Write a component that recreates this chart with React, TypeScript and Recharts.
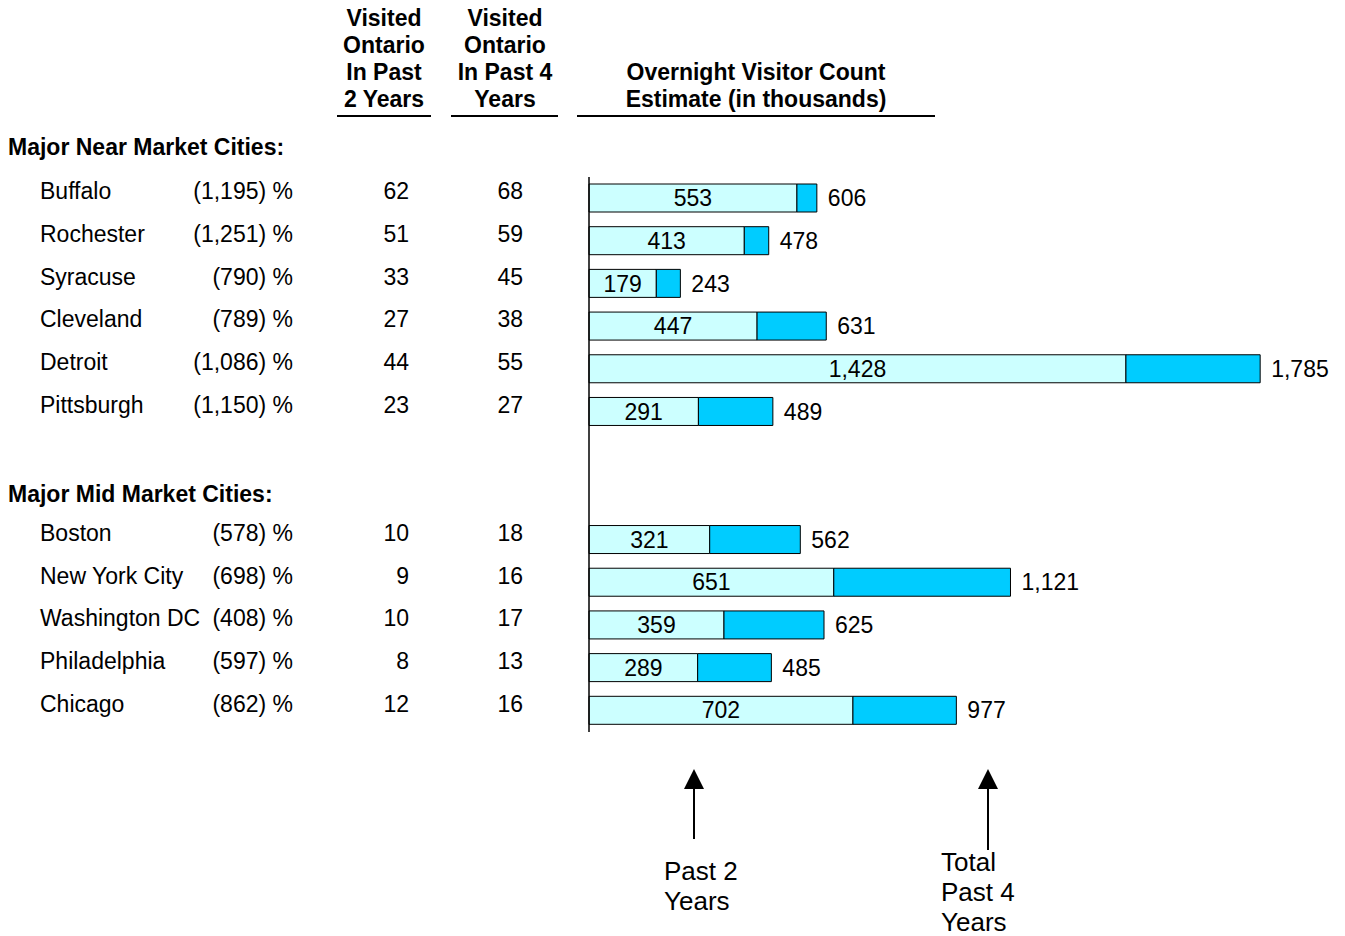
import React from "react"
import { Bar, BarChart, XAxis, YAxis, LabelList } from "recharts"

const cities = [
  "Buffalo",
  "Rochester",
  "Syracuse",
  "Cleveland",
  "Detroit",
  "Pittsburgh",
  "Boston",
  "New York City",
  "Washington DC",
  "Philadelphia",
  "Chicago",
]
const indexPct = [
  "(1,195) %",
  "(1,251) %",
  "(790) %",
  "(789) %",
  "(1,086) %",
  "(1,150) %",
  "(578) %",
  "(698) %",
  "(408) %",
  "(597) %",
  "(862) %",
]
const visited2 = [62, 51, 33, 27, 44, 23, 10, 9, 10, 8, 12]
const visited4 = [68, 59, 45, 38, 55, 27, 18, 16, 17, 13, 16]
const past2Count = [553, 413, 179, 447, 1428, 291, 321, 651, 359, 289, 702]
const totalCount = [606, 478, 243, 631, 1785, 489, 562, 1121, 625, 485, 977]
const nearCount = 6

const FONT = '"Liberation Sans", Arial, sans-serif'

type Row = {
  name: string
  pct: string | null
  v2: number | null
  v4: number | null
  past2: number | null
  extra: number | null
  total: number | null
}

const cityRow = (i: number): Row => ({
  name: cities[i],
  pct: indexPct[i],
  v2: visited2[i],
  v4: visited4[i],
  past2: past2Count[i],
  extra: totalCount[i] - past2Count[i],
  total: totalCount[i],
})
const spacer = (name: string): Row => ({ name, pct: null, v2: null, v4: null, past2: null, extra: null, total: null })

const rows: Row[] = [
  ...cities.slice(0, nearCount).map((_, i) => cityRow(i)),
  spacer("gap1"),
  spacer("gap2"),
  ...cities.slice(nearCount).map((_, i) => cityRow(i + nearCount)),
]

const fmt = (v: any) => (v == null ? "" : Number(v).toLocaleString("en-US"))

function CityTick(props: any) {
  const { y, payload } = props
  const row = rows.find((r) => r.name === payload.value)
  if (!row || row.pct == null) return null
  const ty = y + 1
  return (
    <g fontFamily={FONT} fontSize={23} fill="#000">
      <text x={40} y={ty} fill="#000">{row.name}</text>
      <text x={293} y={ty} textAnchor="end" fill="#000">{row.pct}</text>
      <text x={409} y={ty} textAnchor="end" fill="#000">{row.v2}</text>
      <text x={523} y={ty} textAnchor="end" fill="#000">{row.v4}</text>
    </g>
  )
}

function Arrow({ x, tip, end }: { x: number; tip: number; end: number }) {
  return (
    <g>
      <line x1={x} y1={tip + 18} x2={x} y2={end} stroke="#000" strokeWidth={2} />
      <polygon points={`${x},${tip} ${x - 10},${tip + 20} ${x + 10},${tip + 20}`} fill="#000" />
    </g>
  )
}

function Annotations() {
  return (
    <svg
      width={1345}
      height={936}
      style={{ position: "absolute", left: 0, top: 0, pointerEvents: "none" }}
      fontFamily={FONT}
    >
      <g fontWeight="bold" fontSize={23} textAnchor="middle" fill="#000">
        <text x={384} y={26}>Visited</text>
        <text x={384} y={53}>Ontario</text>
        <text x={384} y={80}>In Past</text>
        <text x={384} y={107}>2 Years</text>
        <text x={505} y={26}>Visited</text>
        <text x={505} y={53}>Ontario</text>
        <text x={505} y={80}>In Past 4</text>
        <text x={505} y={107}>Years</text>
        <text x={756} y={80}>Overnight Visitor Count</text>
        <text x={756} y={107}>Estimate (in thousands)</text>
      </g>
      <line x1={337} y1={116} x2={431} y2={116} stroke="#000" strokeWidth={2} />
      <line x1={451} y1={116} x2={558} y2={116} stroke="#000" strokeWidth={2} />
      <line x1={577} y1={116} x2={935} y2={116} stroke="#000" strokeWidth={2} />
      <g fontWeight="bold" fontSize={23} fill="#000">
        <text x={8} y={155}>Major Near Market Cities:</text>
        <text x={8} y={502}>Major Mid Market Cities:</text>
      </g>
      <Arrow x={694} tip={769} end={839} />
      <Arrow x={988} tip={769} end={850} />
      <g fontSize={26} fill="#000">
        <text x={664} y={880}>Past 2</text>
        <text x={664} y={910}>Years</text>
        <text x={941} y={871}>Total</text>
        <text x={941} y={901}>Past 4</text>
        <text x={941} y={931}>Years</text>
      </g>
    </svg>
  )
}

export default function App() {
  return (
    <div style={{ position: "absolute", left: 0, top: 0, width: 1345, height: 936, background: "#fff" }}>
      <BarChart
        width={1345}
        height={936}
        data={rows}
        layout="vertical"
        margin={{ top: 177, right: 4, bottom: 204, left: 0 }}
        barSize={28}
      >
        <XAxis type="number" domain={[0, 2000]} hide />
        <YAxis
          type="category"
          dataKey="name"
          width={589}
          interval={0}
          tickLine={false}
          axisLine={{ stroke: "#000", strokeWidth: 1.5 }}
          tick={<CityTick />}
        />
        <Bar dataKey="past2" stackId="a" fill="#CCFFFF" stroke="#000" strokeWidth={1} isAnimationActive={false}>
          <LabelList dataKey="past2" position="center" formatter={fmt} fill="#000" fontSize={23} fontFamily={FONT} />
        </Bar>
        <Bar dataKey="extra" stackId="a" fill="#00CCFF" stroke="#000" strokeWidth={1} isAnimationActive={false}>
          <LabelList
            dataKey="total"
            position="right"
            offset={11}
            formatter={fmt}
            fill="#000"
            fontSize={23}
            fontFamily={FONT}
          />
        </Bar>
      </BarChart>
      <Annotations />
    </div>
  )
}
